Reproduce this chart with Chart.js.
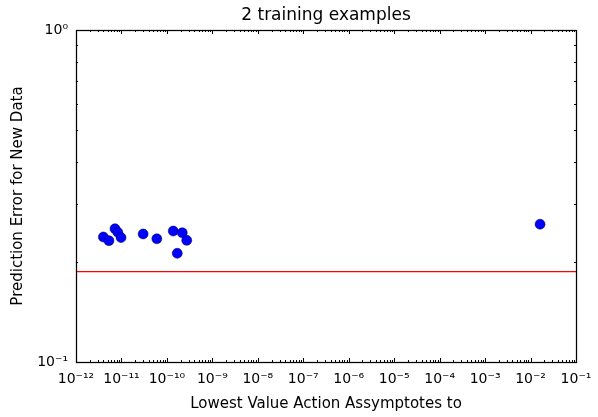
<!DOCTYPE html>
<html>
<head>
<meta charset="utf-8">
<script src="https://cdn.jsdelivr.net/npm/chart.js@4"></script>
<style>
  html, body { margin: 0; padding: 0; background: #fff; }
  #wrap { width: 598px; height: 417px; }
</style>
</head>
<body>
<div id="wrap"><canvas id="chart"></canvas></div>
<script>
// values
var xValues = [4.0e-12, 5.3e-12, 7.2e-12, 8.3e-12, 9.8e-12, 3.0e-11, 6.0e-11, 1.38e-10, 2.18e-10, 2.73e-10, 1.69e-10, 1.62e-2];
var yValues = [0.238, 0.232, 0.252, 0.246, 0.237, 0.243, 0.235, 0.248, 0.245, 0.2325, 0.2125, 0.260];
var baseline = 0.187;

var xTickValues = [1e-12, 1e-11, 1e-10, 1e-9, 1e-8, 1e-7, 1e-6, 1e-5, 1e-4, 1e-3, 1e-2, 1e-1];
var xTickLabels = ['10⁻¹²', '10⁻¹¹', '10⁻¹⁰', '10⁻⁹', '10⁻⁸', '10⁻⁷', '10⁻⁶', '10⁻⁵', '10⁻⁴', '10⁻³', '10⁻²', '10⁻¹'];
var yTickValues = [0.1, 1];
var yTickLabels = ['10⁻¹', '10⁰'];

var FONT = "'DejaVu Sans', sans-serif";

// matplotlib style frame with inward major/minor ticks on all sides
var frameTicks = {
    id: 'frameTicks',
    afterDatasetsDraw: function (chart) {
        var ctx = chart.ctx;
        var a = chart.chartArea;
        var xs = chart.scales.x, ys = chart.scales.y;
        ctx.save();
        ctx.strokeStyle = '#000';
        ctx.lineWidth = 1;
        ctx.beginPath();
        function vTick(v, len) {
            var px = Math.round(xs.getPixelForValue(v)) + 0.5;
            ctx.moveTo(px, a.bottom); ctx.lineTo(px, a.bottom - len);
            ctx.moveTo(px, a.top); ctx.lineTo(px, a.top + len);
        }
        function hTick(v, len) {
            var py = Math.round(ys.getPixelForValue(v)) + 0.5;
            ctx.moveTo(a.left, py); ctx.lineTo(a.left + len, py);
            ctx.moveTo(a.right, py); ctx.lineTo(a.right - len, py);
        }
        xTickValues.forEach(function (v) { vTick(v, 4); });
        for (var e = -12; e < -1; e++) {
            for (var m = 2; m <= 9; m++) vTick(m * Math.pow(10, e), 2);
        }
        yTickValues.forEach(function (v) { hTick(v, 4); });
        for (var k = 2; k <= 9; k++) hTick(k / 10, 2);
        ctx.stroke();
        ctx.lineWidth = 1.25;
        ctx.strokeRect(Math.round(a.left) + 0.5, Math.round(a.top) + 0.5,
            Math.round(a.right - a.left), Math.round(a.bottom - a.top));
        ctx.restore();
    }
};

function noSidePadding(scale) {
    scale.paddingLeft = 0;
    scale.paddingRight = 0;
}

var ctx = document.getElementById('chart').getContext('2d');
var chart = new Chart(ctx, {
    type: 'scatter',
    data: {
        datasets: [{
            label: 'baseline',
            type: 'line',
            data: [{x: 1e-12, y: baseline}, {x: 1e-1, y: baseline}],
            borderColor: '#ff0000',
            borderWidth: 1.25,
            pointRadius: 0,
            order: 2
        }, {
            label: 'error',
            data: xValues.map(function (x, i) { return {x: x, y: yValues[i]}; }),
            backgroundColor: '#0000ff',
            borderColor: '#000033',
            borderWidth: 0.5,
            pointRadius: 5,
            order: 1
        }]
    },
    options: {
        responsive: true,
        maintainAspectRatio: false,
        animation: false,
        layout: { padding: { left: 0, right: 22, top: 0, bottom: 0 } },
        plugins: {
            legend: { display: false },
            tooltip: { enabled: false },
            title: { display: false }
        },
        scales: {
            // top axis only carries the chart title, centred over the plot
            top: {
                type: 'logarithmic',
                position: 'top',
                min: 1e-12,
                max: 1e-1,
                afterFit: function (scale) { scale.height = 30; noSidePadding(scale); },
                grid: { display: false, drawTicks: false },
                border: { display: false },
                ticks: { display: false },
                title: {
                    display: true,
                    text: '2 training examples',
                    color: '#000',
                    font: { family: FONT, size: 17 },
                    padding: { top: 5, bottom: 5 }
                }
            },
            x: {
                type: 'logarithmic',
                min: 1e-12,
                max: 1e-1,
                afterBuildTicks: function (scale) {
                    scale.ticks = xTickValues.map(function (v) { return {value: v}; });
                },
                afterFit: function (scale) { scale.height = 55; noSidePadding(scale); },
                grid: { display: false, drawTicks: false },
                border: { display: false },
                ticks: {
                    autoSkip: false,
                    maxRotation: 0,
                    padding: 9,
                    color: '#000',
                    font: { family: FONT, size: 14 },
                    callback: function (v, i) { return xTickLabels[i]; }
                },
                title: {
                    display: true,
                    text: 'Lowest Value Action Assymptotes to',
                    color: '#000',
                    font: { family: FONT, size: 15 },
                    padding: { top: 4, bottom: 4 }
                }
            },
            y: {
                type: 'logarithmic',
                min: 0.1,
                max: 1,
                afterBuildTicks: function (scale) {
                    scale.ticks = yTickValues.map(function (v) { return {value: v}; });
                },
                afterFit: function (scale) { scale.width = 76; },
                grid: { display: false, drawTicks: false },
                border: { display: false },
                ticks: {
                    autoSkip: false,
                    padding: 8,
                    color: '#000',
                    font: { family: FONT, size: 14 },
                    callback: function (v, i) { return yTickLabels[i]; }
                },
                title: {
                    display: true,
                    text: 'Prediction Error for New Data',
                    color: '#000',
                    font: { family: FONT, size: 15 },
                    padding: { top: 9, bottom: 4 }
                }
            }
        }
    },
    plugins: [frameTicks]
});
</script>
</body>
</html>
